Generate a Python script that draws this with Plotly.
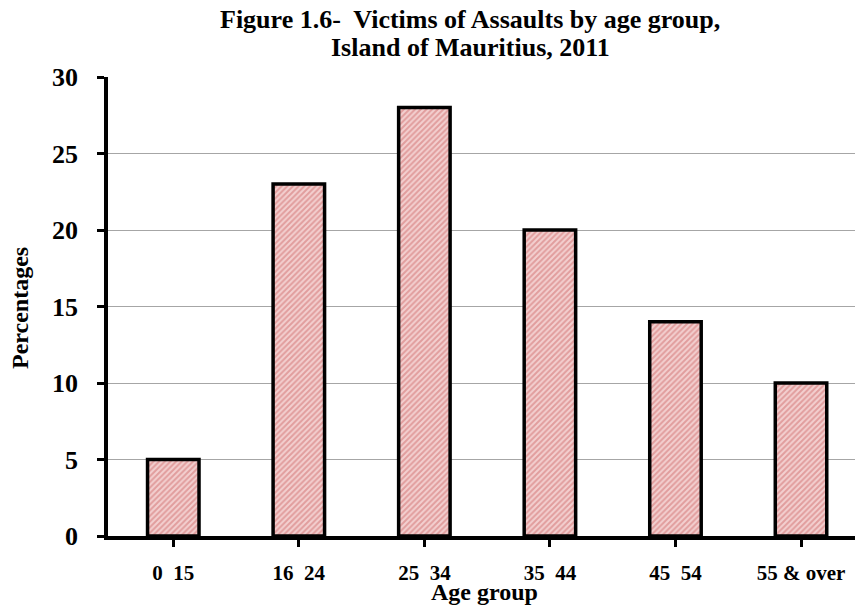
import plotly.graph_objects as go

categories = ["0  15", "16  24", "25  34", "35  44", "45  54", "55 & over"]
values = [5, 23, 28, 20, 14, 10]
y_ticks = [0, 5, 10, 15, 20, 25, 30]

FONT = "Liberation Serif"

fig = go.Figure(go.Bar(
    x=list(range(len(categories))),
    y=values,
    width=0.41,
    marker=dict(
        color="#f0c0c0",
        line=dict(color="black", width=3.5),
        pattern=dict(shape="/", fgcolor="#d06a6a", bgcolor="#f3d0d0", size=4, solidity=0.5),
    ),
    hoverinfo="skip",
))

W, H = 855, 606
L, R, T, B = 108, 0, 77, 606 - 536
pw, ph = W - L - R, H - T - B

annotations = [
    dict(text="<b>Figure 1.6-  Victims of Assaults by age group,</b>", x=470, y=19,
         font=dict(family=FONT, size=26, color="black")),
    dict(text="<b>Island of Mauritius, 2011</b>", x=470, y=47,
         font=dict(family=FONT, size=26, color="black")),
    dict(text="<b>Age group</b>", x=485, y=592,
         font=dict(family=FONT, size=24, color="black")),
    dict(text="<b>Percentages</b>", x=20, y=308, textangle=-90,
         font=dict(family=FONT, size=24, color="black")),
]
for a in annotations:
    a["x"] = (a["x"] - L) / pw
    a["y"] = (H - B - a["y"]) / ph
    a.update(xref="paper", yref="paper", xanchor="center", yanchor="middle", showarrow=False)

fig.update_layout(
    width=W, height=H,
    margin=dict(l=L, r=R, t=T, b=B),
    paper_bgcolor="white", plot_bgcolor="white",
    showlegend=False,
    font=dict(family=FONT, color="black"),
    annotations=annotations,
)

fig.update_xaxes(
    range=[-0.52, 5.43],
    tickmode="array", tickvals=list(range(len(categories))),
    ticktext=[f"<b>{c}</b>" for c in categories],
    tickfont=dict(family=FONT, size=21, color="black"),
    showline=True, linecolor="black", linewidth=3.5,
    ticks="outside", ticklen=7, tickwidth=3, tickcolor="black",
    tickson="boundaries", ticklabelstandoff=8,
    showgrid=False, zeroline=False, automargin=False,
)

fig.update_yaxes(
    range=[0, 30],
    tickmode="array", tickvals=y_ticks,
    ticktext=[f"<b>{v}</b>" for v in y_ticks],
    tickfont=dict(family=FONT, size=26, color="black"),
    showline=True, linecolor="black", linewidth=3.5,
    ticks="outside", ticklen=7, tickwidth=3, tickcolor="black",
    ticklabelstandoff=14,
    showgrid=True, gridcolor="#a6a6a6", gridwidth=1,
    zeroline=False, automargin=False,
)

fig.write_html("out.html", config={"displayModeBar": False},
               post_script="document.body.style.margin='0';")
